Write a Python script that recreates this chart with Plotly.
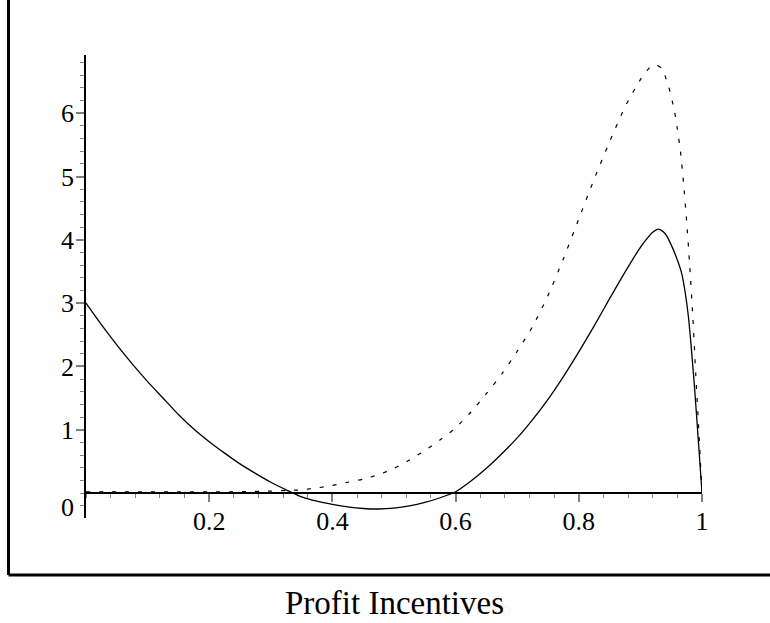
import plotly.graph_objects as go

# Solid curve
x_solid = [0.0, 0.025, 0.05, 0.075, 0.1, 0.125, 0.15, 0.175, 0.2, 0.225, 0.25, 0.275,
           0.3, 0.325, 0.35, 0.375, 0.4, 0.425, 0.45, 0.475, 0.5, 0.525, 0.55, 0.575,
           0.6, 0.625, 0.65, 0.675, 0.7, 0.725, 0.75, 0.775, 0.8, 0.825, 0.85, 0.875,
           0.9, 0.91, 0.92, 0.93, 0.94, 0.95, 0.96, 0.967, 0.973, 0.978, 0.983, 0.988,
           0.994, 1.0]
y_solid = [3.00, 2.66, 2.34, 2.04, 1.76, 1.50, 1.24, 1.01, 0.81, 0.63, 0.46, 0.31,
           0.17, 0.05, -0.06, -0.13, -0.18, -0.22, -0.245, -0.253, -0.24, -0.205, -0.15, -0.075,
           0.02, 0.19, 0.39, 0.62, 0.87, 1.16, 1.48, 1.84, 2.23, 2.64, 3.07, 3.49,
           3.88, 4.01, 4.12, 4.17, 4.10, 3.92, 3.68, 3.47, 3.15, 2.78, 2.25, 1.65,
           0.84, 0.0]

# Dashed curve
x_dashed = [0.0, 0.05, 0.1, 0.15, 0.2, 0.25, 0.3, 0.325, 0.35, 0.375, 0.4, 0.425,
            0.45, 0.475, 0.5, 0.525, 0.55, 0.575, 0.6, 0.625, 0.65, 0.675, 0.7, 0.725,
            0.75, 0.775, 0.8, 0.825, 0.85, 0.875, 0.9, 0.915, 0.925, 0.935, 0.945, 0.955,
            0.96, 0.965, 0.97, 0.975, 0.98, 0.985, 0.99, 0.995, 1.0]
y_dashed = [0.02, 0.02, 0.02, 0.02, 0.02, 0.02, 0.03, 0.04, 0.05, 0.08, 0.12, 0.17,
            0.22, 0.29, 0.39, 0.52, 0.67, 0.84, 1.03, 1.28, 1.57, 1.88, 2.24, 2.63,
            3.12, 3.70, 4.33, 4.96, 5.55, 6.10, 6.53, 6.72, 6.77, 6.70, 6.45, 6.05,
            5.75, 5.40, 4.90, 4.30, 3.60, 2.80, 1.85, 0.95, 0.0]

x_tickvals = [0.2, 0.4, 0.6, 0.8, 1.0]
x_ticktext = ["0.2", "0.4", "0.6", "0.8", "1"]
y_tickvals = [1, 2, 3, 4, 5, 6]
y_ticktext = ["1", "2", "3", "4", "5", "6"]
x_title = "Profit Incentives"

FONT = "Liberation Serif, Times New Roman, serif"
Y_RANGE = [-0.395, 6.92]

fig = go.Figure()
fig.add_trace(go.Scatter(x=x_dashed, y=y_dashed, mode="lines",
                         line=dict(color="black", width=1.2, dash="4px,9px",
                                   shape="spline", smoothing=0.6)))
fig.add_trace(go.Scatter(x=x_solid, y=y_solid, mode="lines",
                         line=dict(color="black", width=1.3,
                                   shape="spline", smoothing=0.6)))

x_pos = (0 - Y_RANGE[0]) / (Y_RANGE[1] - Y_RANGE[0])

fig.update_layout(
    width=770, height=623,
    margin=dict(l=86, r=68, t=55, b=105),
    plot_bgcolor="white", paper_bgcolor="white",
    showlegend=False,
    xaxis=dict(
        range=[0, 1], tickmode="array", tickvals=x_tickvals, ticktext=x_ticktext,
        ticks="outside", ticklen=8, tickwidth=1.5, tickcolor="#808080",
        showline=True, linecolor="black", linewidth=1.5,
        anchor="free", position=x_pos,
        showgrid=False, zeroline=False,
        minor=dict(tickmode="linear", tick0=0, dtick=0.04, ticks="outside",
                   ticklen=4, tickwidth=1.2, tickcolor="#808080", showgrid=False),
        tickfont=dict(family=FONT, size=26, color="black"),
        ticklabelstandoff=-3,
    ),
    yaxis=dict(
        range=Y_RANGE, tickmode="array", tickvals=y_tickvals, ticktext=y_ticktext,
        ticks="outside", ticklen=8, tickwidth=1.5, tickcolor="#808080",
        showline=True, linecolor="black", linewidth=1.5,
        showgrid=False, zeroline=False,
        minor=dict(tickmode="linear", tick0=0, dtick=0.2, ticks="outside",
                   ticklen=4, tickwidth=1.2, tickcolor="#808080", showgrid=False),
        tickfont=dict(family=FONT, size=26, color="black"),
        ticklabelstandoff=-3,
    ),
)

# "0" label on the y axis, drawn just below the horizontal axis as in the original
fig.add_annotation(x=-0.0165, xref="paper", y=-0.229, yref="y", text="0",
                   showarrow=False, xanchor="right", yanchor="middle",
                   font=dict(family=FONT, size=26, color="black"))

# x axis caption
fig.add_annotation(x=0.5, xref="paper", y=-0.1836, yref="paper", text=x_title,
                   showarrow=False, xanchor="center", yanchor="middle",
                   font=dict(family=FONT, size=33, color="black"))

# outer frame (left and bottom edges)
fig.add_shape(type="line", xref="paper", yref="paper",
              x0=-0.1258, x1=-0.1258, y0=-0.1231, y1=1.2,
              line=dict(color="black", width=3))
fig.add_shape(type="line", xref="paper", yref="paper",
              x0=-0.1258, x1=1.2, y0=-0.1231, y1=-0.1231,
              line=dict(color="black", width=3))

fig.write_html("out.html")
